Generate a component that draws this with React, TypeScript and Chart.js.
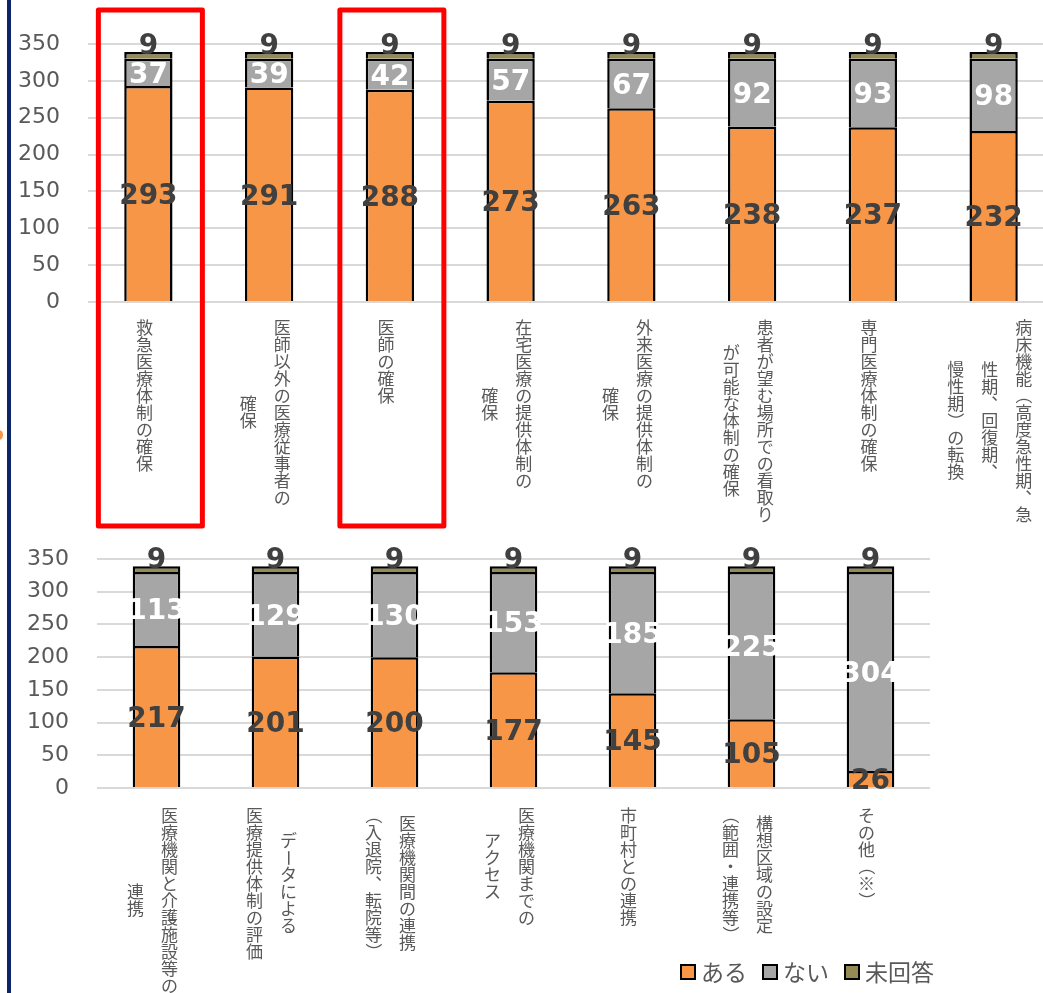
import React, { useEffect, useRef } from 'react';
import { Chart, registerables } from 'chart.js';

Chart.register(...registerables);

// ---------- data ----------
const seriesNames = ['ある', 'ない', '未回答'];
const seriesColors = ['#F79646', '#A6A6A6', '#948A54'];

// each label: columns of vertical text, first = rightmost column
const topLabels: string[][] = [
  ['救急医療体制の確保'],
  ['医師以外の医療従事者の', '確保'],
  ['医師の確保'],
  ['在宅医療の提供体制の', '確保'],
  ['外来医療の提供体制の', '確保'],
  ['患者が望む場所での看取り', 'が可能な体制の確保'],
  ['専門医療体制の確保'],
  ['病床機能（高度急性期、急', '性期、回復期、', '慢性期）の転換'],
];
const topAru = [293, 291, 288, 273, 263, 238, 237, 232];
const topNai = [37, 39, 42, 57, 67, 92, 93, 98];
const topMikaito = [9, 9, 9, 9, 9, 9, 9, 9];
const topHighlighted = [0, 2];

const bottomLabels: string[][] = [
  ['医療機関と介護施設等の', '連携'],
  ['データによる', '医療提供体制の評価'],
  ['医療機関間の連携', '（入退院、転院等）'],
  ['医療機関までの', 'アクセス'],
  ['市町村との連携'],
  ['構想区域の設定', '（範囲・連携等）'],
  ['その他（※）'],
];
const bottomAru = [217, 201, 200, 177, 145, 105, 26];
const bottomNai = [113, 129, 130, 153, 185, 225, 304];
const bottomMikaito = [9, 9, 9, 9, 9, 9, 9];

const yTicksMax = 350;
const yTicksStep = 50;

// ---------- styling ----------
const CJK_FONT = '"Noto Sans CJK JP", "Noto Sans", sans-serif';
const NUM_FONT = '"DejaVu Sans", Verdana, sans-serif';
const TEXT_GRAY = '#595959';
const LABEL_DARK = '#404040';

const rotated = new Set(['（', '）', 'ー', '(', ')']);

function drawVerticalColumn(ctx: CanvasRenderingContext2D, text: string, x: number, yTop: number, fs: number) {
  const chars = Array.from(text);
  chars.forEach((ch, i) => {
    const cy = yTop + i * fs + fs / 2;
    if (rotated.has(ch)) {
      ctx.save();
      ctx.translate(x, cy);
      ctx.rotate(Math.PI / 2);
      ctx.fillText(ch, 0, 0);
      ctx.restore();
    } else if (ch === '、' || ch === '。') {
      ctx.fillText(ch, x + fs * 0.6, cy - fs * 0.6);
    } else {
      ctx.fillText(ch, x, cy);
    }
  });
}

function makeVerticalLabels(columns: string[][], offset: number) {
  return {
    id: 'verticalLabels',
    afterDraw(chart: any) {
      const { ctx, scales } = chart;
      const fs = 17;
      const colGap = 34;
      ctx.save();
      ctx.font = `${fs}px ${CJK_FONT}`;
      ctx.fillStyle = TEXT_GRAY;
      ctx.textAlign = 'center';
      ctx.textBaseline = 'middle';
      const yStart = scales.y.getPixelForValue(0) + offset;
      columns.forEach((cols, i) => {
        const cx = scales.x.getPixelForValue(i) - 4;
        const maxLen = Math.max(...cols.map((c) => Array.from(c).length));
        cols.forEach((col, k) => {
          const colX = cx + ((cols.length - 1) / 2 - k) * colGap;
          const len = Array.from(col).length;
          const top = yStart + ((maxLen - len) * fs) / 2;
          drawVerticalColumn(ctx, col, colX, top, fs);
        });
      });
      ctx.restore();
    },
  };
}

const valueLabels = {
  id: 'valueLabels',
  afterDatasetsDraw(chart: any) {
    const ctx = chart.ctx;
    ctx.save();
    ctx.font = `bold 28px ${NUM_FONT}`;
    ctx.textAlign = 'center';
    chart.data.datasets.forEach((ds: any, di: number) => {
      const meta = chart.getDatasetMeta(di);
      meta.data.forEach((el: any, j: number) => {
        const v = ds.data[j];
        const { x, y, base } = el.getProps(['x', 'y', 'base'], true);
        if (di === 2) {
          ctx.fillStyle = LABEL_DARK;
          ctx.textBaseline = 'alphabetic';
          ctx.fillText(String(v), x, y + 2);
        } else {
          ctx.fillStyle = di === 1 ? '#FFFFFF' : LABEL_DARK;
          ctx.textBaseline = 'middle';
          ctx.fillText(String(v), x, (y + base) / 2 + 3);
        }
      });
    });
    ctx.restore();
  },
};

function makeHighlight(indices: number[]) {
  return {
    id: 'highlight',
    afterDraw(chart: any) {
      const { ctx, scales } = chart;
      ctx.save();
      ctx.strokeStyle = '#FF0000';
      ctx.lineWidth = 5;
      ctx.lineJoin = 'round';
      indices.forEach((i) => {
        const cx = scales.x.getPixelForValue(i) + 2;
        ctx.strokeRect(cx - 52, 10, 104, 516);
      });
      ctx.restore();
    },
  };
}

const customLegend = {
  id: 'customLegend',
  afterDraw(chart: any) {
    const ctx = chart.ctx;
    ctx.save();
    ctx.font = `23px ${CJK_FONT}`;
    let x = 681;
    const cy = 442;
    const sq = 14;
    chart.data.datasets.forEach((ds: any) => {
      ctx.fillStyle = ds.backgroundColor;
      ctx.fillRect(x, cy - sq / 2, sq, sq);
      ctx.strokeStyle = '#000';
      ctx.lineWidth = 2;
      ctx.strokeRect(x, cy - sq / 2, sq, sq);
      ctx.fillStyle = TEXT_GRAY;
      ctx.textAlign = 'left';
      ctx.textBaseline = 'middle';
      ctx.fillText(ds.label, x + sq + 6, cy);
      x += sq + 6 + ctx.measureText(ds.label).width + 16;
    });
    ctx.restore();
  },
};

function buildConfig(labels: string[][], aru: number[], nai: number[], mi: number[], yAxisWidth: number, padding: any, extraPlugins: any[]) {
  const values = [aru, nai, mi];
  return {
    type: 'bar' as const,
    data: {
      labels: labels.map((c) => c.join('')),
      datasets: seriesNames.map((name, i) => ({
        label: name,
        data: values[i],
        backgroundColor: seriesColors[i],
        borderColor: '#000000',
        borderWidth: 2.5,
        categoryPercentage: 1,
        barPercentage: 0.4,
      })),
    },
    options: {
      responsive: false,
      animation: false as const,
      layout: { padding },
      plugins: {
        legend: { display: false },
        tooltip: { enabled: false },
      },
      scales: {
        x: {
          stacked: true,
          ticks: { display: false },
          grid: { display: false, drawTicks: false },
          border: { display: false },
          afterFit(scale: any) {
            scale.height = 0;
            scale.paddingLeft = 0;
            scale.paddingRight = 0;
          },
        },
        y: {
          stacked: true,
          min: 0,
          max: yTicksMax,
          ticks: {
            stepSize: yTicksStep,
            padding: 28,
            color: TEXT_GRAY,
            font: { family: NUM_FONT, size: 22 },
          },
          grid: { color: '#D9D9D9', lineWidth: 2, drawTicks: false },
          border: { display: false },
          afterFit(scale: any) {
            scale.width = yAxisWidth;
            scale.paddingTop = 0;
            scale.paddingBottom = 0;
          },
        },
      },
    },
    plugins: [valueLabels, ...extraPlugins],
  };
}

export default function App() {
  const topRef = useRef<HTMLCanvasElement>(null);
  const bottomRef = useRef<HTMLCanvasElement>(null);

  useEffect(() => {
    const top = new Chart(
      topRef.current as HTMLCanvasElement,
      buildConfig(topLabels, topAru, topNai, topMikaito, 88, { top: 44, bottom: 228, left: 0, right: 0 }, [
        makeVerticalLabels(topLabels, 17),
        makeHighlight(topHighlighted),
      ]) as any
    );
    const bottom = new Chart(
      bottomRef.current as HTMLCanvasElement,
      buildConfig(bottomLabels, bottomAru, bottomNai, bottomMikaito, 97, { top: 29, bottom: 205, left: 0, right: 113 }, [
        makeVerticalLabels(bottomLabels, 19),
        customLegend,
      ]) as any
    );
    return () => {
      top.destroy();
      bottom.destroy();
    };
  }, []);

  return (
    <div
      style={{
        position: 'absolute',
        left: 0,
        top: 0,
        width: 1043,
        height: 993,
        overflow: 'hidden',
        background: '#FFFFFF',
      }}
    >
      <canvas ref={topRef} width={1054} height={530} style={{ position: 'absolute', left: 0, top: 0, display: 'block' }} />
      <canvas ref={bottomRef} width={1043} height={463} style={{ position: 'absolute', left: 0, top: 530, display: 'block' }} />
      <div style={{ position: 'absolute', left: 7, top: 0, width: 4, height: 993, background: '#0B2566' }} />
      <div style={{ position: 'absolute', left: -6, top: 430, width: 9, height: 10, borderRadius: 5, background: '#F79646' }} />
    </div>
  );
}
